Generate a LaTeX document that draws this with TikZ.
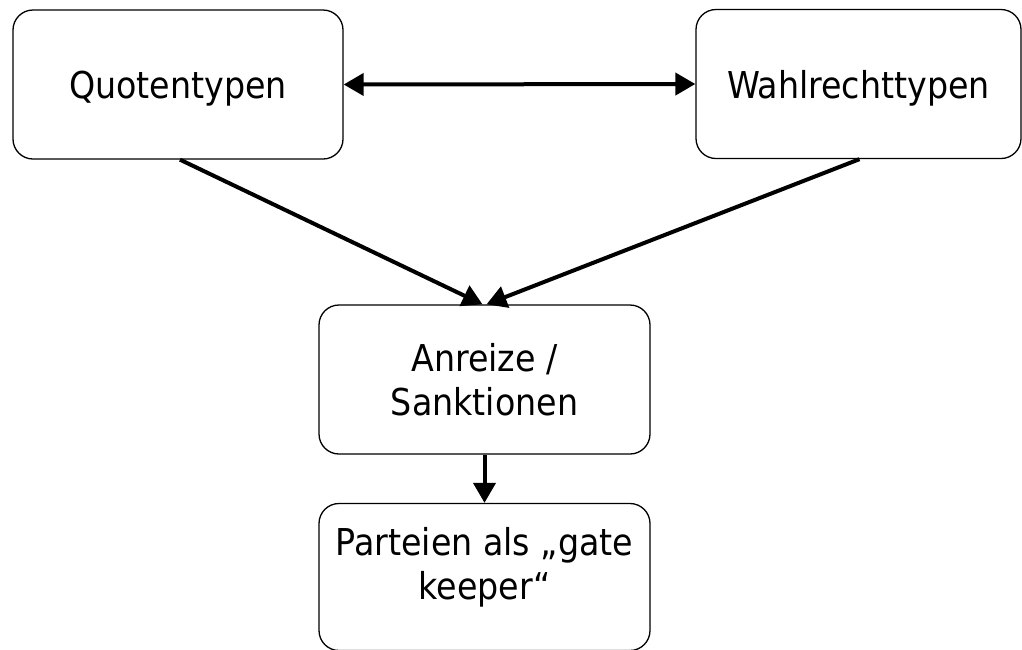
\documentclass[tikz,border=0pt]{standalone}
\usepackage{fontspec}
\setmainfont{DejaVu Sans Condensed}
\usetikzlibrary{arrows.meta}
\tikzset{
  txt/.style={align=center, inner sep=0pt, font=\fontsize{37}{44}\selectfont},
  box/.style={txt, draw=black, line width=1.3pt, rounded corners=20pt, fill=white},
  conn/.style={line width=4pt, -{Triangle[length=20pt,width=22pt]}},
  conn2/.style={line width=4pt, {Triangle[length=20pt,width=22pt]}-{Triangle[length=20pt,width=22pt]}},
}
\begin{document}
\begin{tikzpicture}[x=1pt,y=-1pt]
\useasboundingbox (0,0) rectangle (1022,649);
\node[box, text depth=0pt, minimum width=330pt, minimum height=149pt] (Q) at (178,84.5) {Quotentypen};
\node[box, text depth=0pt, minimum width=325pt, minimum height=149pt] (W) at (858.5,84) {Wahlrechttypen};
\node[box, minimum width=331pt, minimum height=149pt] (A) at (484.5,379.5) {Anreize /\\Sanktionen};
\node[box, minimum width=331pt, minimum height=147pt] (P) at (484.5,577) {};
\node[txt] (Pt) at (484.5,567) {Parteien als „gate\\keeper“};
\draw[conn2] (Q.east) -- (W.west);
\draw[conn] ([xshift=2pt]Q.south) -- ([xshift=-2pt]A.north);
\draw[conn] ([xshift=1pt]W.south) -- ([xshift=2pt]A.north);
\draw[conn] (A.south) -- (P.north);
\end{tikzpicture}
\end{document}
